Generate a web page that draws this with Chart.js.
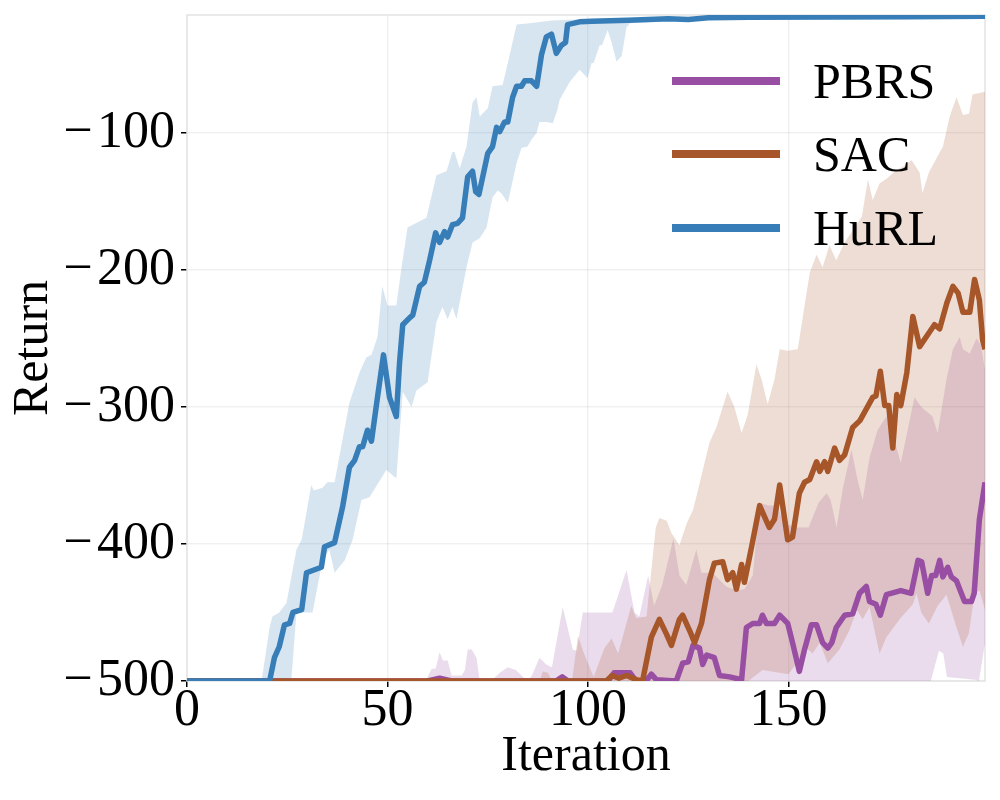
<!DOCTYPE html>
<html>
<head>
<meta charset="utf-8">
<title>Return vs Iteration</title>
<script src="https://cdn.jsdelivr.net/npm/chart.js@4.4.1/dist/chart.umd.min.js"></script>
<style>
    html, body { margin: 0; padding: 0; background: #fff; }
    #wrap { width: 1000px; height: 800px; }
</style>
</head>
<body>
<div id="wrap"><canvas id="returnChart" width="1000" height="800"></canvas></div>
<script>
// == Dữ liệu: [iteration, return] ==
const seriesNames = ["PBRS", "SAC", "HuRL"];
const seriesColors = ["#984ea3", "#a65628", "#377eb8"];
const xTicks = [0, 50, 100, 150];
const yTicks = [-500, -400, -300, -200, -100];

const pbrsMean = [[0,-500],[60,-500],[63,-498],[66,-500],[92,-500],[93.6,-497],[95,-500],[105,-500],[106.5,-494],[110.5,-494],[112,-500],[114.5,-500],[115.8,-495],[117,-499],[122,-500],[123.6,-487],[125,-486],[126.2,-474],[127.8,-476],[128.6,-488],[129.6,-481],[131.5,-483],[132.8,-496],[135.3,-497],[138.3,-499],[139.5,-461],[141.1,-458],[142.8,-458],[143.5,-452],[144.5,-458],[146.5,-458],[147.8,-452],[149.8,-458],[151,-472],[152.7,-493],[154,-477],[155.7,-459],[157,-459],[158.5,-472],[159.8,-476],[160.8,-472],[161.9,-461],[164,-452],[166,-451],[167.7,-436],[169.4,-431],[170.2,-442],[171.8,-444],[172.9,-452],[174.4,-437],[178,-434],[180.6,-436],[182.3,-412],[183.2,-413],[184.7,-436],[185.7,-423],[186.7,-423],[187.7,-412],[188.5,-424],[189.7,-417],[190.6,-424],[191.9,-427],[193.9,-442],[195.6,-442],[196.3,-436],[197.6,-382],[199,-355]];
const pbrsHigh = [[0,-500],[59.5,-500],[61,-491],[62,-491],[63,-479],[63.8,-485],[65,-485],[66,-496],[68.5,-496],[69.3,-492],[70,-477],[71,-477],[72.2,-483],[73,-500],[75.8,-500],[78,-494],[80,-490],[82,-492],[84.9,-500],[86,-496],[87.9,-483],[89.6,-488],[91,-490],[93.7,-446],[96.2,-477],[97.2,-478],[98.7,-450],[106.1,-450],[109.6,-419],[111.6,-450],[112.8,-453],[115,-423],[116.5,-445],[118.5,-430],[121.3,-396],[122.8,-423],[124.5,-430],[127,-404],[128.3,-421],[131,-421],[134.5,-431],[137,-434],[139,-433],[141.1,-423],[142.8,-370],[145,-372],[147,-372],[149,-385],[152,-388],[155,-388],[157.5,-370],[159.5,-363],[160.5,-368],[162,-388],[163.5,-360],[165.7,-331],[167.2,-353],[168.5,-368],[170.2,-337],[172.2,-317],[174.4,-307],[176,-320],[178,-341],[180.2,-310],[181.4,-293],[183.1,-300],[185.9,-307],[187.2,-319],[189.4,-280],[191,-258],[192.7,-249],[193.5,-258],[195.2,-261],[196.9,-250],[198,-255],[199,-273]];
const pbrsLow = [[0,-500],[185.5,-500],[187.5,-478],[188.6,-480],[189.5,-497],[196.5,-499],[197.5,-500],[199,-472]];

const sacMean = [[0,-500],[104.6,-500],[106,-496],[107.7,-498],[109.6,-496],[112,-499],[113.6,-500],[115.8,-468],[117.8,-455],[119.6,-466],[120.8,-474],[122.8,-455],[123.6,-452],[125.3,-463],[126.6,-472],[128.3,-458],[130.3,-426],[131.5,-414],[133.6,-413],[134.8,-426],[136.1,-421],[137,-433],[138.3,-415],[139,-428],[140.8,-402],[142.8,-372],[145.2,-388],[146.5,-382],[147.8,-357],[149.8,-397],[151,-395],[152.7,-363],[154,-355],[155.3,-353],[157,-340],[157.8,-347],[159,-340],[159.8,-347],[161.5,-330],[162.7,-339],[164,-335],[166,-315],[167.8,-310],[171,-293],[171.8,-292],[172.9,-274],[174,-299],[175,-299],[176,-330],[177,-291],[178,-299],[179.5,-275],[181,-234],[182.7,-256],[185,-246],[186.4,-240],[187.7,-243],[189.5,-224],[191,-212],[192.3,-217],[193.5,-231],[195.2,-231],[196.4,-207],[197.6,-222],[198.4,-251],[199,-258]];
const sacHigh = [[0,-500],[88,-500],[88.7,-493],[90,-494],[91,-500],[96,-500],[97.5,-467],[99,-480],[101.4,-497],[104.1,-476],[105.9,-469],[107.5,-480],[110.8,-445],[112,-454],[114.6,-453],[116.9,-388],[117.8,-381],[119.6,-383],[120.8,-392],[122.8,-401],[124.6,-385],[126.2,-375],[127.4,-361],[130.3,-326],[132,-315],[134.8,-289],[136.5,-300],[138.3,-319],[139.8,-306],[142,-269],[143.3,-280],[144.8,-298],[146.5,-280],[147.8,-258],[149.8,-259],[152.3,-258],[155.3,-202],[157,-189],[158.5,-198],[160.2,-182],[161.9,-193],[164,-180],[166.5,-169],[168.3,-161],[169.8,-134],[171,-149],[172.7,-137],[174.7,-133],[177,-127],[178.4,-125],[180.7,-120],[182.7,-129],[183.4,-144],[185,-129],[188.5,-110],[190.2,-88],[191.9,-74],[193.5,-87],[195,-86],[195.9,-72],[197.6,-71],[199,-70]];
const sacLow = [[0,-500],[140,-500],[143.5,-492],[150,-495],[152,-487],[154.5,-476],[156,-480],[157.8,-472],[159.8,-487],[162.7,-477],[165.2,-463],[167,-448],[168.5,-455],[170.2,-446],[172.7,-480],[174.4,-468],[177.7,-455],[181,-444],[181.9,-436],[183.1,-450],[185,-458],[187.2,-445],[189.4,-437],[191.8,-460],[193.5,-475],[195,-465],[196.4,-436],[197.6,-434],[199,-448]];

const hurlMean = [[0,-500],[20.6,-500],[21.8,-483],[23,-475],[24.3,-459],[25.6,-458],[26.4,-450],[28.6,-448],[29.8,-421],[33.5,-417],[34.3,-402],[36.8,-399],[38.8,-373],[40.5,-344],[41.8,-339],[43,-329],[43.8,-329],[45,-317],[46,-325],[47.5,-293],[49,-262],[50.5,-293],[52.2,-307],[53,-268],[53.8,-240],[55.5,-235],[56.3,-233],[58,-212],[59.2,-209],[60.5,-193],[62,-173],[63,-180],[64.2,-172],[65,-176],[66.2,-167],[67.5,-166],[68.7,-162],[70,-132],[71.2,-128],[72,-143],[72.8,-145],[75,-115],[76.2,-110],[77.2,-96],[78,-99],[79.2,-92],[80,-92],[81.2,-74],[82.2,-66],[83.4,-66],[84.2,-62],[85.9,-62],[87.2,-66],[88.4,-43],[89.6,-30],[90.9,-28],[92.1,-42],[93.4,-36],[94.4,-34],[94.9,-21],[97.9,-19],[101,-18.5],[110,-17.8],[120,-16.8],[125,-17.2],[130,-16],[140,-15.6],[160,-15.4],[180,-15.2],[199,-15]];
const hurlHigh = [[0,-500],[18.6,-500],[20.6,-461],[21.3,-453],[23,-450],[24.8,-443],[27.3,-404],[28.6,-397],[31,-357],[31.6,-361],[33.8,-359],[35,-355],[36.8,-355],[40.5,-297],[43,-275],[44.7,-264],[46,-262],[47.5,-249],[48.7,-212],[50,-226],[52.2,-226],[53.5,-198],[55,-169],[59.7,-162],[62.2,-131],[64.7,-128],[66.2,-114],[66.7,-114],[68,-126],[69.7,-110],[71.2,-78],[72.2,-74],[73,-88],[75,-82],[76.2,-66],[78.7,-65],[80,-49],[82.2,-21],[85.4,-20],[91,-18],[100,-17],[110,-16.5],[130,-15.5],[150,-15],[199,-14]];
const hurlLow = [[0,-500],[26,-500],[27.3,-450],[31.3,-450],[33.8,-412],[35.5,-404],[36.8,-421],[39.3,-412],[41.3,-397],[43.5,-368],[45.5,-366],[49.7,-346],[52.2,-352],[53.8,-289],[56,-300],[57.2,-288],[60,-282],[62.2,-238],[63.7,-227],[65,-236],[66.2,-227],[67.2,-236],[69.7,-198],[71.2,-180],[73,-177],[74.7,-169],[76.2,-147],[77.5,-142],[78.4,-144],[80,-151],[82.2,-122],[83.4,-111],[84.9,-110],[85.9,-105],[87.2,-100],[87.9,-92],[89.6,-92],[91.2,-93],[92.4,-83],[92.9,-76],[95.4,-63],[97.9,-54],[99.9,-60],[100.9,-49],[101.4,-49],[102.9,-36],[103.5,-36],[104.9,-25],[105.9,-34],[107.1,-48],[108.4,-44],[109.6,-23],[110.5,-20],[120,-18.5],[130,-17.5],[150,-16.5],[199,-16]];

const means = [pbrsMean, sacMean, hurlMean];
const highs = [pbrsHigh, sacHigh, hurlHigh];
const lows = [pbrsLow, sacLow, hurlLow];

const FONT = "'Liberation Serif', 'Times New Roman', serif";
const toPts = arr => arr.map(([x, y]) => ({ x, y }));

function rgba(hex, a) {
    const n = parseInt(hex.slice(1), 16);
    return `rgba(${(n >> 16) & 255}, ${(n >> 8) & 255}, ${n & 255}, ${a})`;
}

// 🔹 Dải sai số trước, đường trung bình sau
const datasets = [];
seriesNames.forEach((name, i) => {
    datasets.push({
        label: name + " band",
        data: toPts(highs[i]),
        borderWidth: 0,
        pointRadius: 0,
        backgroundColor: rgba(seriesColors[i], 0.2),
        fill: "+1",
        order: 10 - i,
        clip: 0
    });
    datasets.push({
        label: name + " low",
        data: toPts(lows[i]),
        borderWidth: 0,
        pointRadius: 0,
        fill: false,
        order: 10 - i,
        clip: 0
    });
});
seriesNames.forEach((name, i) => {
    datasets.push({
        label: name,
        data: toPts(means[i]),
        borderColor: seriesColors[i],
        borderWidth: 5.5,
        borderJoinStyle: "round",
        pointRadius: 0,
        fill: false,
        tension: 0,
        order: 5 - i,
        clip: 0
    });
});

// Khung viền vùng vẽ
const framePlugin = {
    id: "frame",
    beforeDatasetsDraw(chart) {
        const { ctx, chartArea: a } = chart;
        ctx.save();
        ctx.strokeStyle = "#e3e3e3";
        ctx.lineWidth = 1.5;
        ctx.strokeRect(a.left, a.top, a.right - a.left, a.bottom - a.top);
        ctx.restore();
    }
};

// Chú thích vẽ tay, đặt trong vùng vẽ
const legendPlugin = {
    id: "customLegend",
    afterDatasetsDraw(chart) {
        const ctx = chart.ctx;
        const rows = [98, 171, 245];
        ctx.save();
        ctx.font = `50px ${FONT}`;
        ctx.textBaseline = "alphabetic";
        ctx.textAlign = "left";
        seriesNames.forEach((name, i) => {
            const y = rows[i];
            ctx.strokeStyle = seriesColors[i];
            ctx.lineWidth = 8;
            ctx.beginPath();
            ctx.moveTo(672, y - 17);
            ctx.lineTo(780, y - 17);
            ctx.stroke();
            ctx.fillStyle = "#000";
            ctx.fillText(name, 813, y);
        });
        ctx.restore();
    }
};

const minus = v => String(v).replace("-", "\u2212\u200A");
const noPad = s => { s.paddingTop = 0; s.paddingBottom = 0; s.paddingLeft = 0; s.paddingRight = 0; };

new Chart(document.getElementById("returnChart").getContext("2d"), {
    type: "line",
    data: { datasets },
    plugins: [framePlugin, legendPlugin],
    options: {
        responsive: false,
        animation: false,
        devicePixelRatio: 1,
        layout: { padding: { left: 0, right: 15, top: 15, bottom: 0 } },
        plugins: { legend: { display: false }, tooltip: { enabled: false } },
        scales: {
            x: {
                type: "linear",
                min: 0,
                max: 199,
                afterFit: s => { s.height = 119; noPad(s); },
                afterBuildTicks: s => { s.ticks = xTicks.map(v => ({ value: v })); },
                grid: { color: "rgba(0,0,0,0.06)", lineWidth: 1.5, tickColor: "#000", tickLength: 6, tickWidth: 1.5 },
                border: { display: false },
                ticks: {
                    color: "#000",
                    padding: -2,
                    maxRotation: 0,
                    font: { family: FONT, size: 52, lineHeight: 1 },
                    callback: v => minus(v)
                },
                title: {
                    display: true,
                    text: "Iteration",
                    color: "#000",
                    font: { family: FONT, size: 50, lineHeight: 1.2 },
                    padding: { top: 0, bottom: 13 }
                }
            },
            y: {
                type: "linear",
                min: -500,
                max: -14,
                afterFit: s => { s.width = 187; noPad(s); },
                afterBuildTicks: s => { s.ticks = yTicks.map(v => ({ value: v })); },
                grid: { color: "rgba(0,0,0,0.06)", lineWidth: 1.5, tickColor: "#000", tickLength: 6, tickWidth: 1.5 },
                border: { display: false },
                ticks: {
                    color: "#000",
                    padding: 6,
                    font: { family: FONT, size: 52 },
                    callback: v => minus(v)
                },
                title: {
                    display: true,
                    text: "Return",
                    color: "#000",
                    font: { family: FONT, size: 50, lineHeight: 1.2 },
                    padding: { top: 4, bottom: 0 }
                }
            }
        }
    }
});
</script>
</body>
</html>
